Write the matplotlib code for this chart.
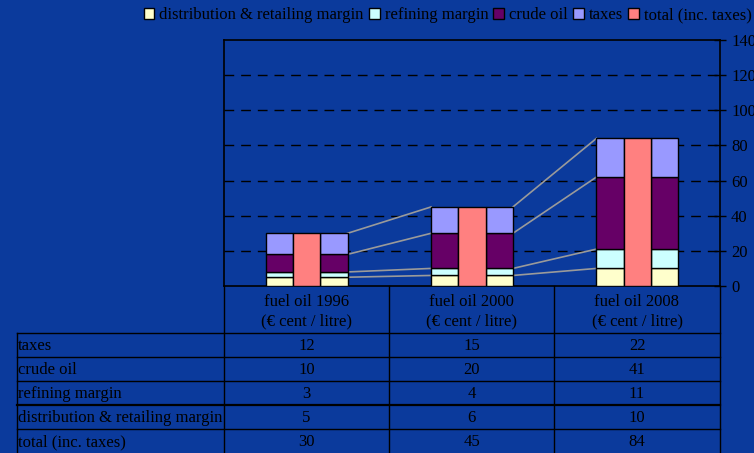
import numpy as np
import matplotlib.pyplot as plt
from matplotlib.lines import Line2D
from matplotlib.patches import Patch

plt.rcParams['font.family'] = ['Liberation Serif', 'DejaVu Serif']

# data
categories = ['fuel oil 1996\n(€ cent / litre)', 'fuel oil 2000\n(€ cent / litre)', 'fuel oil 2008\n(€ cent / litre)']
distribution = [5, 6, 10]
refining = [3, 4, 11]
crude = [10, 20, 41]
taxes = [12, 15, 22]
total = [30, 45, 84]
row_labels = ['taxes', 'crude oil', 'refining margin', 'distribution & retailing margin', 'total (inc. taxes)']
yticks = [0, 20, 40, 60, 80, 100, 120, 140]

bg = '#0b3a9c'
col_dist = '#FFFFCC'
col_ref = '#CCFFFF'
col_crude = '#660066'
col_tax = '#9999FF'
col_total = '#FF8080'

W, H = 754, 453
fig = plt.figure(figsize=(W / 100, H / 100), dpi=100, facecolor=bg)

def fx(x):
    return x / W

def fy(y):
    return 1 - y / H

ax = fig.add_axes([fx(224), fy(286), fx(720) - fx(224), fy(40) - fy(286)])
ax.set_facecolor(bg)

x = np.arange(len(categories))
bw = 0.165
layers = [(distribution, col_dist), (refining, col_ref), (crude, col_crude), (taxes, col_tax)]
for off in (-bw, bw):
    bottom = np.zeros(len(x))
    for vals, c in layers:
        ax.bar(x + off, vals, bw, bottom=bottom, color=c, edgecolor='black', linewidth=1, zorder=3)
        bottom += np.array(vals)
ax.bar(x, total, bw, color=col_total, edgecolor='black', linewidth=1, zorder=3)

# connector lines between groups
cum = np.cumsum([distribution, refining, crude, taxes], axis=0)
for level in cum:
    for i in range(len(x) - 1):
        ax.plot([x[i] + 1.5 * bw, x[i + 1] - 1.5 * bw], [level[i], level[i + 1]],
                color='#9a9a9a', lw=1.2, zorder=2)

ax.set_xlim(-0.5, 2.5)
ax.set_ylim(0, 140)
ax.set_xticks([])
ax.yaxis.tick_right()
ax.set_yticks(yticks)
ax.tick_params(axis='y', direction='inout', length=8, width=1, colors='black',
               labelsize=12, pad=4)
for y in yticks[1:-1]:
    ax.axhline(y, color='black', lw=1, ls=(0, (7, 5)), zorder=1)
for s in ax.spines.values():
    s.set_color('black')
    s.set_linewidth(1.2)

# table
def hline(y, x0, x1, lw=1):
    fig.add_artist(Line2D([fx(x0), fx(x1)], [fy(y), fy(y)], color='black', lw=lw))

def vline(xp, y0, y1, lw=1):
    fig.add_artist(Line2D([fx(xp), fx(xp)], [fy(y0), fy(y1)], color='black', lw=lw))

cols = [224, 389, 554, 720]
rows = [333, 357, 381, 405, 429, 453]
for xp in cols:
    vline(xp, 286, 453)
vline(16.5, 333, 453)
for i, y in enumerate(rows[:-1]):
    hline(y, 16.5, 720, lw=1.6 if i == 3 else 1)

for j, cat in enumerate(categories):
    cx = (cols[j] + cols[j + 1]) / 2
    fig.text(fx(cx), fy(312), cat, ha='center', va='center', fontsize=12,
             linespacing=1.3, color='black')

table_vals = [taxes, crude, refining, distribution, total]
for i, (lab, vals) in enumerate(zip(row_labels, table_vals)):
    cy = (rows[i] + rows[i + 1]) / 2 + 1
    fig.text(fx(18), fy(cy), lab, ha='left', va='center', fontsize=12, color='black')
    for j, v in enumerate(vals):
        cx = (cols[j] + cols[j + 1]) / 2
        fig.text(fx(cx), fy(cy), str(v), ha='center', va='center', fontsize=12, color='black')

# legend
handles = [Patch(facecolor=c, edgecolor='black', lw=1) for c in
           [col_dist, col_ref, col_crude, col_tax, col_total]]
labels = ['distribution & retailing margin', 'refining margin', 'crude oil', 'taxes', 'total (inc. taxes)']
fig.legend(handles, labels, loc='center right', bbox_to_anchor=(fx(760), fy(15)), ncol=5,
           frameon=False, fontsize=12, handlelength=0.65, handleheight=0.65,
           handletextpad=0.3, columnspacing=0.3, borderpad=0, labelcolor='black')

fig.savefig('out.png', dpi=100, facecolor=bg)
